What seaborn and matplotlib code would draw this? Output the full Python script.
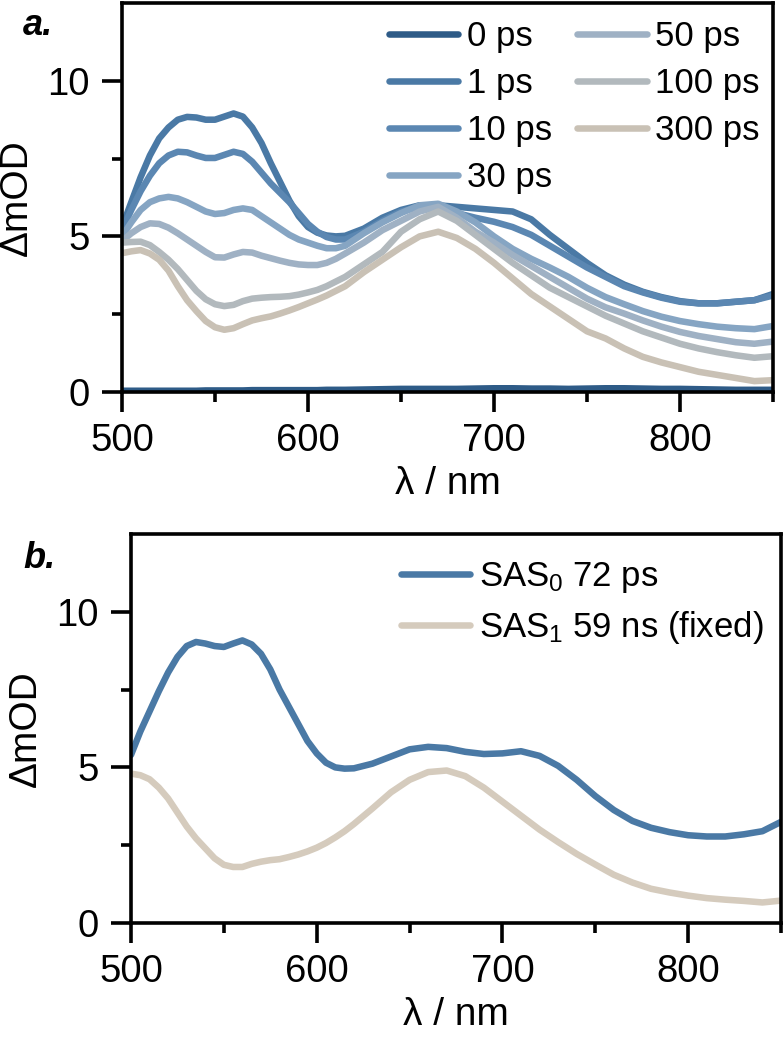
import numpy as np
import pandas as pd
import matplotlib
matplotlib.use("Agg")
import matplotlib.pyplot as plt
from matplotlib.ticker import MultipleLocator, FixedLocator
import seaborn as sns

# ---------------- data ----------------
wavelength = list(range(500, 621, 5)) + list(range(630, 851, 10))

delays = ["0 ps", "1 ps", "10 ps", "30 ps", "50 ps", "100 ps", "300 ps"]

ps0 = [0.04, 0.04, 0.04, 0.04, 0.04, 0.04, 0.04, 0.04, 0.04, 0.05, 0.05, 0.05, 0.05,
       0.05, 0.06, 0.06, 0.06, 0.06, 0.06, 0.06, 0.06, 0.06, 0.07, 0.07, 0.07,
       0.08, 0.09, 0.1, 0.1, 0.1, 0.1, 0.11, 0.12, 0.12, 0.11, 0.11, 0.1,
       0.11, 0.12, 0.12, 0.11, 0.1, 0.1, 0.09, 0.08, 0.07, 0.07, 0.07]
ps1 = [5.3, 6.1, 6.9, 7.6, 8.15, 8.5, 8.75, 8.84, 8.82, 8.75, 8.75, 8.85, 8.95,
       8.85, 8.5, 8.0, 7.35, 6.75, 6.15, 5.65, 5.3, 5.12, 5.03, 5.0, 5.02,
       5.25, 5.6, 5.85, 6.0, 6.0, 5.95, 5.9, 5.85, 5.8, 5.55, 5.05, 4.6,
       4.15, 3.75, 3.45, 3.22, 3.05, 2.92, 2.85, 2.85, 2.9, 2.95, 3.15]
ps10 = [5.2, 5.85, 6.45, 6.95, 7.35, 7.6, 7.72, 7.7, 7.6, 7.52, 7.52, 7.62, 7.72,
        7.65, 7.4, 7.05, 6.7, 6.4, 6.1, 5.75, 5.4, 5.15, 4.98, 4.9, 4.9,
        5.15, 5.5, 5.8, 5.95, 5.95, 5.75, 5.6, 5.47, 5.3, 5.05, 4.7, 4.35,
        4.0, 3.7, 3.4, 3.2, 3.03, 2.9, 2.85, 2.85, 2.9, 2.95, 3.1]
ps30 = [5.0, 5.45, 5.85, 6.1, 6.22, 6.27, 6.22, 6.1, 5.95, 5.8, 5.72, 5.75, 5.85,
        5.9, 5.85, 5.65, 5.45, 5.25, 5.05, 4.9, 4.8, 4.7, 4.62, 4.62, 4.7,
        5.1, 5.45, 5.75, 6.0, 6.05, 5.8, 5.45, 5.0, 4.6, 4.28, 4.0, 3.7,
        3.35, 3.05, 2.82, 2.6, 2.42, 2.28, 2.18, 2.1, 2.05, 2.02, 2.12]
ps50 = [4.85, 5.1, 5.3, 5.42, 5.4, 5.28, 5.1, 4.9, 4.7, 4.5, 4.33, 4.32, 4.42,
        4.5, 4.48, 4.38, 4.3, 4.22, 4.15, 4.1, 4.08, 4.08, 4.15, 4.28, 4.45,
        4.8, 5.2, 5.5, 5.8, 5.95, 5.6, 5.15, 4.8, 4.4, 4.05, 3.7, 3.35,
        3.0, 2.72, 2.52, 2.3, 2.1, 1.93, 1.8, 1.7, 1.6, 1.55, 1.62]
ps100 = [4.8, 4.82, 4.83, 4.72, 4.5, 4.25, 3.95, 3.6, 3.25, 2.98, 2.82, 2.76, 2.8,
         2.92, 3.0, 3.03, 3.05, 3.06, 3.08, 3.13, 3.2, 3.28, 3.4, 3.55, 3.7,
         4.1, 4.5, 5.15, 5.55, 5.8, 5.5, 5.05, 4.6, 4.15, 3.75, 3.35, 3.05,
         2.75, 2.45, 2.2, 1.95, 1.75, 1.55, 1.4, 1.28, 1.18, 1.1, 1.15]
ps300 = [4.46, 4.52, 4.56, 4.45, 4.25, 3.9, 3.4, 2.95, 2.6, 2.28, 2.08, 2.0, 2.05,
         2.18, 2.3, 2.37, 2.43, 2.52, 2.62, 2.73, 2.85, 2.97, 3.1, 3.25, 3.4,
         3.85, 4.25, 4.65, 5.0, 5.15, 4.95, 4.6, 4.15, 3.65, 3.15, 2.75, 2.35,
         1.95, 1.72, 1.4, 1.13, 0.95, 0.8, 0.65, 0.55, 0.45, 0.35, 0.38]

sas_labels = [r"SAS$_\mathregular{0}$ 72 ps", r"SAS$_\mathregular{1}$ 59 ns (fixed)"]
sas0 = [5.4, 6.15, 6.8, 7.45, 8.05, 8.55, 8.9, 9.03, 8.98, 8.9, 8.87, 8.98, 9.08,
        8.95, 8.65, 8.15, 7.5, 6.95, 6.4, 5.85, 5.45, 5.15, 5.0, 4.96, 4.97,
        5.12, 5.35, 5.58, 5.66, 5.62, 5.5, 5.43, 5.45, 5.52, 5.37, 5.05, 4.6,
        4.08, 3.63, 3.28, 3.06, 2.92, 2.82, 2.78, 2.78, 2.85, 2.95, 3.25]
sas1 = [4.8, 4.75, 4.62, 4.35, 4.0, 3.55, 3.1, 2.72, 2.4, 2.08, 1.87, 1.8, 1.8,
        1.9, 1.97, 2.02, 2.05, 2.12, 2.2, 2.3, 2.42, 2.57, 2.75, 2.95, 3.18,
        3.68, 4.2, 4.6, 4.85, 4.9, 4.72, 4.35, 3.9, 3.45, 3.0, 2.6, 2.22,
        1.88, 1.55, 1.3, 1.1, 0.98, 0.88, 0.8, 0.75, 0.71, 0.66, 0.72]

colors_a = ["#2e5b87", "#4a79a5", "#5b87b2", "#86a5c3", "#9fb1c4", "#b2b9bd", "#c9c1b5"]
colors_b = ["#4a79a5", "#d5cbbd"]

# ---------------- frames ----------------
df_a = pd.concat([
    pd.DataFrame({"wl": wavelength, "dOD": v, "delay": d})
    for d, v in zip(delays, [ps0, ps1, ps10, ps30, ps50, ps100, ps300])
], ignore_index=True)
df_b = pd.concat([
    pd.DataFrame({"wl": wavelength, "dOD": v, "sas": s})
    for s, v in zip(sas_labels, [sas0, sas1])
], ignore_index=True)

# ---------------- style ----------------
sns.set_theme(style="ticks")
plt.rcParams["font.family"] = ["Liberation Sans", "DejaVu Sans"]
plt.rcParams["mathtext.fontset"] = "custom"
plt.rcParams["mathtext.rm"] = "Liberation Sans"
plt.rcParams["mathtext.it"] = "Liberation Sans:italic"
plt.rcParams["mathtext.bf"] = "Liberation Sans:bold"
for k in ["text.color", "axes.labelcolor", "xtick.color", "ytick.color",
          "xtick.labelcolor", "ytick.labelcolor", "axes.edgecolor"]:
    plt.rcParams[k] = "black"

fig = plt.figure(figsize=(7.84, 10.41), dpi=100)
H = 389 / 1041
ax_a = fig.add_axes([122 / 784, 1 - 392 / 1041, 651 / 784, H])
ax_b = fig.add_axes([131 / 784, 1 - 923 / 1041, 650 / 784, H])

lw = 4.7
sns.lineplot(data=df_a, x="wl", y="dOD", hue="delay", hue_order=delays,
             palette=dict(zip(delays, colors_a)), estimator=None, sort=False,
             linewidth=lw, ax=ax_a)
sns.lineplot(data=df_b, x="wl", y="dOD", hue="sas", hue_order=sas_labels,
             palette=dict(zip(sas_labels, colors_b)), estimator=None, sort=False,
             linewidth=lw, ax=ax_b)

for ax in (ax_a, ax_b):
    for ln in ax.get_lines():
        ln.set_solid_capstyle("round")
        ln.set_solid_joinstyle("round")
    ax.set_xlim(500, 850)
    ax.set_ylim(0, 12.5)
    ax.xaxis.set_major_locator(MultipleLocator(100))
    ax.xaxis.set_minor_locator(MultipleLocator(50))
    ax.yaxis.set_major_locator(FixedLocator([0, 5, 10]))
    ax.yaxis.set_minor_locator(FixedLocator([2.5, 7.5]))
    ax.tick_params(which="major", direction="out", length=14.4, width=2.6,
                   labelsize=27.5, color="black", labelcolor="black")
    ax.tick_params(axis="x", which="major", pad=8)
    ax.tick_params(axis="y", which="major", pad=9)
    ax.tick_params(which="minor", direction="out", length=7.5, width=2.6,
                   color="black")
    for sp in ax.spines.values():
        sp.set_visible(True)
        sp.set_linewidth(2.6)
        sp.set_color("black")
    ax.set_xlabel("λ / nm", fontsize=28, labelpad=5, color="black")
    ax.set_ylabel("ΔmOD", fontsize=28, labelpad=9, color="black")

# legends
h, l = ax_a.get_legend_handles_labels()
leg_a = ax_a.legend(h, l, ncol=2, loc="upper left", frameon=False,
                    bbox_to_anchor=(389 / 784, 1 - 20 / 1041),
                    bbox_transform=fig.transFigure, borderpad=0, borderaxespad=0,
                    fontsize=25, handlelength=2.0, handletextpad=0.25,
                    columnspacing=0.72, labelspacing=0.40)
for ln in leg_a.get_lines():
    ln.set_linewidth(lw)
    ln.set_solid_capstyle("round")

h, l = ax_b.get_legend_handles_labels()
leg_b = ax_b.legend(h, l, ncol=1, loc="upper left", frameon=False,
                    bbox_to_anchor=(401 / 784, 1 - 560 / 1041),
                    bbox_transform=fig.transFigure, borderpad=0, borderaxespad=0,
                    fontsize=25, handlelength=2.0, handletextpad=0.25,
                    labelspacing=0.4)
for ln in leg_b.get_lines():
    ln.set_linewidth(lw)
    ln.set_solid_capstyle("round")

fig.text(23 / 784, 1 - 35 / 1041, "a.", fontsize=26, fontweight="bold",
         fontstyle="italic", va="baseline", ha="left")
fig.text(23 / 784, 1 - 568 / 1041, "b.", fontsize=26, fontweight="bold",
         fontstyle="italic", va="baseline", ha="left")

fig.savefig("out.png", dpi=100)
